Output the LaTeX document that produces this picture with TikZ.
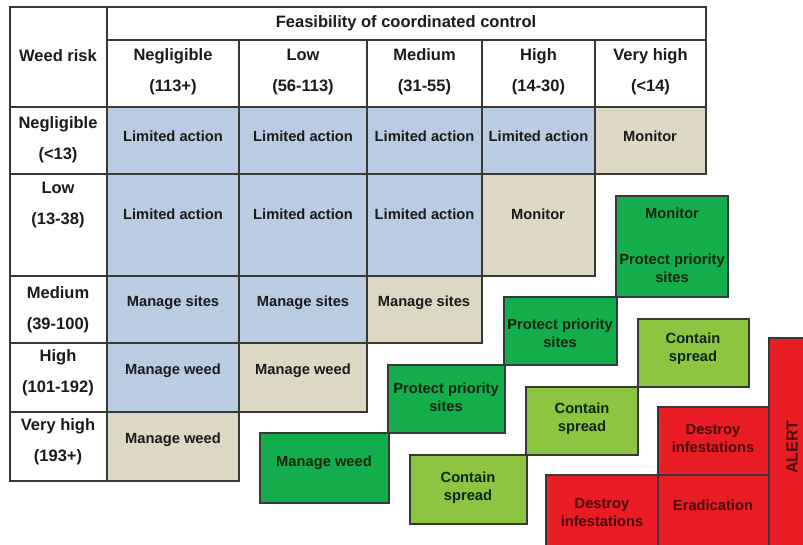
\documentclass[tikz,border=0pt]{standalone}
\usepackage{fontspec}
\setmainfont{Liberation Sans}
\definecolor{skyblue}{HTML}{B9CCE4}
\definecolor{sand}{HTML}{DDD8C3}
\definecolor{leafgreen}{HTML}{13AD4B}
\definecolor{limegreen}{HTML}{8CC53F}
\definecolor{alertred}{HTML}{EA1C24}
\definecolor{linegray}{HTML}{383838}
\definecolor{inkblack}{HTML}{1A1A1A}
\definecolor{inkgreen}{HTML}{0C2612}
\definecolor{inkred}{HTML}{4A0A0A}
\def\tcell(#1,#2)(#3,#4)#5{\draw[cellline,fill=#5] (#1,#2) rectangle (#3,#4);}
\tikzset{cellline/.style={draw=linegray,line width=1.3pt},
  head/.style={font=\fontsize{16.5}{20}\selectfont\bfseries,align=center,text=inkblack,inner sep=0pt},
  act/.style={font=\fontsize{14.7}{18}\selectfont\bfseries,align=center,text=inkblack,inner sep=0pt}}

\begin{document}
\begin{tikzpicture}[x=1pt,y=-1pt]
\useasboundingbox[fill=white] (0,0) rectangle (803,544);
% header of the table
\tcell(107,7)(706,40){white}
\tcell(10,7)(107,107){white}
\node[head] (feas) at (406,23) {Feasibility of coordinated control};
\node[head] (wrisk) at (58,56) {Weed risk};
\foreach \xa/\xb/\txt [count=\i] in {107/239/{Negligible\\[11pt](113+)},239/367/{Low\\[11pt](56-113)},
    367/482/{Medium\\[11pt](31-55)},482/595/{High\\[11pt](14-30)},595/706/{Very high\\[11pt](<14)}}
  {\tcell(\xa,40)(\xb,107){white} \node[head] (feas\i) at ({(\xa+\xb)/2},72) {\txt};}
\foreach \ya/\yb/\yt/\txt [count=\i] in {107/174/140/{Negligible\\[11pt](<13)},174/276/205/{Low\\[11pt](13-38)},
    276/343/310/{Medium\\[11pt](39-100)},343/412/373/{High\\[11pt](101-192)},412/481/442/{Very high\\[11pt](193+)}}
  {\tcell(10,\ya)(107,\yb){white} \node[head] (risk\i) at (58,\yt) {\txt};}
% cells of the table
\foreach \xa/\xb [count=\i] in {107/239,239/367,367/482,482/595}
  {\tcell(\xa,107)(\xb,174){skyblue} \node[act] (neg\i) at ({(\xa+\xb)/2},136) {Limited action};}
\tcell(595,107)(706,174){sand} \node[act] (neg5) at (650,136) {Monitor};
\foreach \xa/\xb [count=\i] in {107/239,239/367,367/482}
  {\tcell(\xa,174)(\xb,276){skyblue} \node[act] (low\i) at ({(\xa+\xb)/2},214) {Limited action};}
\tcell(482,174)(595,276){sand} \node[act] (low4) at (538,214) {Monitor};
\foreach \xa/\xb [count=\i] in {107/239,239/367}
  {\tcell(\xa,276)(\xb,343){skyblue} \node[act] (med\i) at ({(\xa+\xb)/2},303) {Manage sites};}
\tcell(367,276)(482,343){sand} \node[act] (med3) at (424,303) {Manage sites};
\tcell(107,343)(239,412){skyblue} \node[act] (high1) at (173,371) {Manage weed};
\tcell(239,343)(367,412){sand} \node[act] (high2) at (303,371) {Manage weed};
\tcell(107,412)(239,481){sand} \node[act] (vhigh1) at (173,440) {Manage weed};
% green steps
\tcell(616,196)(728,297){leafgreen}
\node[act,text=inkgreen] (gmon) at (672,245) {Monitor\\[28pt]Protect priority\\sites};
\tcell(504,297)(617,365){leafgreen} \node[act,text=inkgreen] (gprot1) at (560,333) {Protect priority\\sites};
\tcell(388,365)(505,433){leafgreen} \node[act,text=inkgreen] (gprot2) at (446,397) {Protect priority\\sites};
\tcell(260,433)(389,503){leafgreen} \node[act,text=inkgreen] (gweed) at (324,463) {Manage weed};
\tcell(638,319)(749,387){limegreen} \node[act,text=inkgreen] (cont1) at (693,349) {Contain\\spread};
\tcell(526,387)(638,455){limegreen} \node[act,text=inkgreen] (cont2) at (582,419) {Contain\\spread};
\tcell(410,455)(527,524){limegreen} \node[act,text=inkgreen] (cont3) at (468,488) {Contain\\spread};
% red steps
\tcell(769,338)(814,550){alertred}
\node[act,text=inkred,rotate=90,font=\fontsize{16}{19}\selectfont\bfseries] (alert) at (792,447) {ALERT};
\tcell(658,407)(769,475){alertred} \node[act,text=inkred] (destr1) at (713,439) {Destroy\\infestations};
\tcell(658,475)(769,550){alertred} \node[act,text=inkred] (erad) at (713,505) {Eradication};
\tcell(546,475)(658,550){alertred} \node[act,text=inkred] (destr2) at (602,513) {Destroy\\infestations};
\end{tikzpicture}
\end{document}
